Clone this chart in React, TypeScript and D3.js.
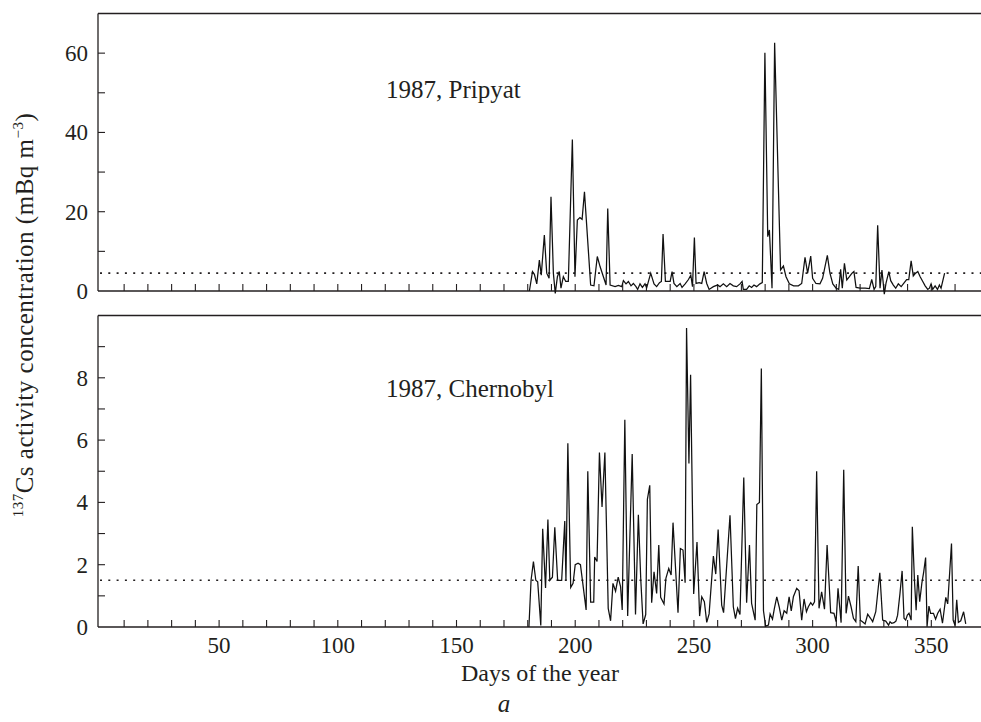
import React from "react";
import * as d3 from "d3";

// ---- Data ----
const topDays = [180.7,182.0,182.8,183.8,184.9,185.7,187.0,188.0,189.0,189.8,190.8,191.6,192.5,193.3,194.0,195.0,196.0,197.1,198.8,199.9,200.9,202.0,202.9,203.9,206.5,207.9,209.3,210.5,213.0,213.7,214.7,216.8,218.2,219.6,220.3,221.4,222.4,223.5,224.5,225.6,226.3,227.3,228.3,229.4,230.1,231.8,233.2,234.3,235.5,236.3,237.0,238.0,240.0,240.8,241.6,242.8,244.2,245.0,246.3,247.7,248.7,249.4,250.2,250.9,252.2,253.3,254.3,255.4,256.4,258.2,259.9,261.0,262.4,263.8,265.2,266.6,268.0,269.4,270.3,270.8,272.2,273.3,274.3,275.3,276.4,277.8,278.8,279.9,281.1,281.8,282.9,284.0,286.5,287.7,288.8,290.2,292.0,294.0,295.4,296.8,297.9,299.2,300.0,301.4,303.1,304.2,306.2,307.3,308.5,309.9,311.0,311.8,312.5,313.4,314.4,315.5,316.6,317.4,318.3,320.0,322.1,323.9,324.9,325.9,326.6,327.4,328.4,329.2,330.2,330.9,332.1,332.9,334.0,335.0,336.1,337.3,338.2,339.6,340.5,341.5,342.4,343.4,344.3,345.3,346.4,347.4,348.5,349.2,349.9,350.6,351.6,352.6,353.4,354.1,355.6];
const topValues = [0,4.9,4.2,1.8,7.8,4.0,14.1,4.5,3.2,23.8,4.5,-0.6,3.6,4.9,0.7,3.6,2.4,2.4,38.2,3.6,17.9,18.5,18.1,25.0,1.5,1.3,8.7,6.1,1.5,20.8,1.5,1.1,1.4,1.1,2.6,1.8,2.4,1.3,1.9,1.1,0.4,1.8,0.9,1.8,0.8,4.5,1.8,1.1,2.1,2.4,14.4,2.4,2.4,4.9,1.9,1.1,1.9,0.9,1.8,2.9,4.0,1.1,13.5,1.9,2.1,1.9,4.9,1.9,0.4,1.1,1.5,1.1,1.8,1.1,1.9,1.3,1.1,1.8,2.4,0.4,0.4,1.3,0.9,1.5,1.1,1.8,2.1,60.1,13.7,15.4,0.7,62.6,5.3,6.3,3.6,1.8,1.3,1.3,1.9,8.5,4.5,8.8,3.2,1.9,1.8,3.2,9.0,4.5,1.8,0.7,0.4,5.5,0.7,7.0,2.8,3.6,4.5,4.9,0.9,0.7,0.7,0.6,2.9,0.4,1.1,16.6,0.7,5.3,-0.8,1.9,4.9,2.6,1.5,0.7,1.8,1.1,1.8,2.9,2.9,7.6,3.8,4.5,4.9,3.6,2.4,1.3,0.4,0.7,1.8,0.4,1.3,0.4,1.5,0.7,4.5];

const botDays = [180.5,181.4,182.4,183.4,184.2,185.5,186.3,187.5,188.5,189.3,190.4,191.4,192.6,194.3,195.6,196.1,196.9,198.1,199.1,200.0,201.2,202.2,204.6,205.3,206.5,207.8,208.2,209.2,210.2,211.3,212.5,213.9,214.9,215.9,217.0,218.1,219.1,219.8,220.9,222.1,224.0,225.4,226.6,227.6,228.6,229.7,230.4,231.4,232.2,233.2,234.3,235.2,236.0,237.4,238.2,239.4,240.4,241.2,243.3,244.3,245.4,246.3,246.9,247.9,248.6,249.9,251.3,252.4,253.3,254.4,255.4,256.4,258.2,259.2,260.2,261.7,262.5,265.2,266.6,267.5,268.4,269.4,271.0,272.2,273.4,274.3,275.8,276.5,277.6,278.4,279.3,280.2,281.4,282.1,283.1,283.9,284.9,285.9,287.0,288.0,289.1,290.1,291.0,291.9,293.3,294.3,295.4,296.4,297.4,298.2,299.2,300.0,300.8,301.7,302.7,303.8,305.0,306.1,307.6,309.0,309.9,310.7,312.0,313.1,314.1,315.1,316.2,317.2,318.2,319.2,320.1,321.0,322.1,323.2,324.4,325.3,326.6,328.3,329.5,330.8,332.0,332.6,333.3,334.3,335.1,335.8,336.8,337.7,338.5,339.2,339.9,340.6,341.5,342.0,342.9,343.6,344.3,345.1,346.0,346.8,347.6,348.2,349.0,349.7,350.9,351.8,352.7,353.7,354.7,356.1,356.9,358.5,359.2,360.0,360.7,361.4,362.4,363.6,364.5];
const botValues = [0,1.5,2.1,1.5,1.45,0.05,3.15,1.25,3.45,1.5,1.6,3.2,1.5,1.5,3.4,1.5,5.9,1.27,1.4,2.0,2.05,2.0,0.55,5.0,0.8,0.8,2.25,2.1,5.6,3.85,5.6,0.6,0.2,1.4,1.15,1.6,1.3,0.55,6.65,0.35,5.55,0.4,3.6,1.55,0.1,0.4,4.1,4.55,0.78,1.77,1.08,2.63,0.95,0.74,1.56,1.88,1.67,3.35,0.46,2.52,2.47,1.42,9.6,5.25,8.1,1.06,2.73,0.35,0.97,0.81,0.15,0.42,2.28,1.7,3.13,0.7,0.46,3.59,0.65,0.27,0.6,0.4,4.8,0.78,2.63,0.76,0.22,3.93,4.0,8.3,0.52,0.03,0.06,0.42,0.25,0.6,0.97,0.65,0.22,0.52,0.44,0.97,0.52,0.97,1.24,1.16,0.22,0.9,0.49,0.65,0.78,0.7,0.81,5.0,0.6,1.13,0.57,2.63,0.46,0.44,0.17,1.24,0.14,5.05,0.44,0.99,0.65,0.28,0.17,1.96,0.22,0.17,0.1,0.41,0.28,0.17,0.49,1.74,0.22,0.19,0.06,0.17,0.12,0.14,0.19,0.38,1.08,1.8,0.28,0.22,0.38,0.44,0.22,3.22,1.5,0.54,1.67,0.81,1.4,1.77,2.23,0.01,0.67,0.44,0.44,0.25,0.44,0.57,0.12,0.95,0.74,2.68,0.22,0.05,0.87,0.15,0.2,0.49,0.1];

const xTickLabels = [50, 100, 150, 200, 250, 300, 350];
const topYTickLabels = [0, 20, 40, 60];
const botYTickLabels = [0, 2, 4, 6, 8];
const topThreshold = 4.5;
const botThreshold = 1.5;
const topLabel = "1987, Pripyat";
const botLabel = "1987, Chernobyl";

const W = 981;
const H = 722;
const FONT = "'Liberation Serif', 'Times New Roman', serif";
const INK = "#231f20";

export default function App() {
  const x = d3.scaleLinear().domain([0, 370]).range([100.4, 978.8]);
  const axisX = 98;
  const rightX = 981;
  const yTop = d3.scaleLinear().domain([0, 70]).range([291, 13.5]);
  const yBot = d3.scaleLinear().domain([0, 10]).range([627, 315.5]);

  const xMinor = d3.range(10, 370, 10);

  const panel = (
    y: d3.ScaleLinear<number, number>,
    days: number[],
    vals: number[],
    yMinor: number[],
    yLabels: number[],
    thr: number,
    label: string,
    labelY: number,
    key: string
  ) => {
    const [y0, y1] = y.range();
    const line = d3
      .line<number>()
      .x((_, i) => x(days[i]))
      .y((v) => y(v));
    return (
      <g key={key}>
        <line x1={axisX} x2={rightX} y1={y1} y2={y1} stroke={INK} strokeWidth={1.3} />
        <line x1={axisX} x2={axisX} y1={y1} y2={y0} stroke={INK} strokeWidth={1.3} />
        <line x1={axisX} x2={rightX} y1={y0} y2={y0} stroke={INK} strokeWidth={1.3} />
        {xMinor.map((d) => (
          <line key={"xt" + d} x1={x(d)} x2={x(d)} y1={y0} y2={y0 - 7} stroke={INK} strokeWidth={1.1} />
        ))}
        {yMinor.map((v) => (
          <line key={"yt" + v} x1={axisX} x2={axisX + 7} y1={y(v)} y2={y(v)} stroke={INK} strokeWidth={1.1} />
        ))}
        {yLabels.map((v) => (
          <text
            key={"yl" + v}
            x={88}
            y={y(v)}
            dy="0.34em"
            textAnchor="end"
            fontFamily={FONT}
            fontSize={23}
            fill={INK}
          >
            {v}
          </text>
        ))}
        <line
          x1={axisX + 2}
          x2={rightX}
          y1={y(thr)}
          y2={y(thr)}
          stroke={INK}
          strokeWidth={1.6}
          strokeDasharray="2 6.3"
        />
        <path d={line(vals) || ""} fill="none" stroke="#111" strokeWidth={1.25} strokeLinejoin="miter" />
        <text x={386} y={labelY} fontFamily={FONT} fontSize={25} fill={INK}>
          {label}
        </text>
      </g>
    );
  };

  return (
    <svg
      width={W}
      height={H}
      style={{ position: "absolute", left: 0, top: 0, background: "#fff" }}
    >
      <rect x={0} y={0} width={W} height={H} fill="#fff" />
      {panel(yTop, topDays, topValues, d3.range(10, 70, 10), topYTickLabels, topThreshold, topLabel, 98, "top")}
      {panel(yBot, botDays, botValues, d3.range(1, 10, 1), botYTickLabels, botThreshold, botLabel, 397, "bot")}
      {xTickLabels.map((d) => (
        <text key={"xl" + d} x={x(d)} y={653} textAnchor="middle" fontFamily={FONT} fontSize={23} fill={INK}>
          {d}
        </text>
      ))}
      <text x={540} y={681} textAnchor="middle" fontFamily={FONT} fontSize={24} fill={INK}>
        Days of the year
      </text>
      <text x={504} y={712} textAnchor="middle" fontFamily={FONT} fontSize={25} fontStyle="italic" fill={INK}>
        a
      </text>
      <text
        transform={`translate(33, 315) rotate(-90)`}
        textAnchor="middle"
        fontFamily={FONT}
        fontSize={25}
        letterSpacing={0.5}
        fill={INK}
      >
        <tspan fontSize={15} dy={-10}>137</tspan>
        <tspan dy={10}>Cs activity concentration (mBq m</tspan>
        <tspan fontSize={15} dy={-10}>−3</tspan>
        <tspan dy={10}>)</tspan>
      </text>
    </svg>
  );
}
